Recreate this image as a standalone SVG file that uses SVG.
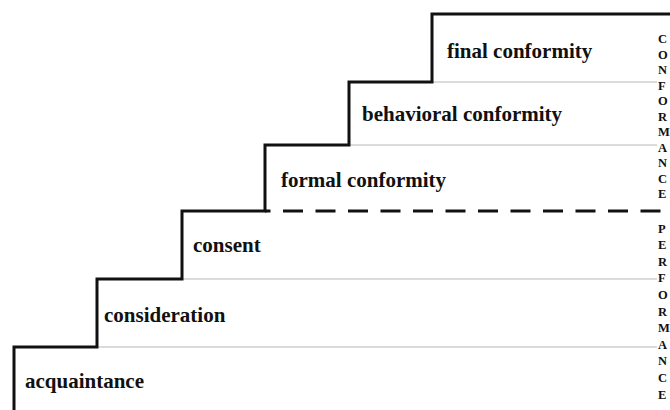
<svg xmlns="http://www.w3.org/2000/svg" width="670" height="410" viewBox="0 0 670 410">
  <style>
    .stage { font-family: "Liberation Serif", "Times New Roman", serif; font-weight: bold; font-size: 21px; fill: #111; }
    .side { font-family: "Liberation Serif", "Times New Roman", serif; font-weight: bold; font-size: 12.5px; fill: #111; }
    .stair { fill: none; stroke: #111; stroke-width: 3; stroke-linejoin: miter; }
    .tread { stroke: #cfcfcf; stroke-width: 1.5; }
    .split { stroke: #111; stroke-width: 3; stroke-dasharray: 20 12.5; stroke-dashoffset: 14.5; }
  </style>
  <rect width="670" height="410" fill="#fff"/>

  <!-- staircase outline and step dividers -->
  <g id="connectors">
    <line class="tread" x1="432" y1="82" x2="657" y2="82"/>
    <line class="tread" x1="349" y1="145" x2="657" y2="145"/>
    <line class="tread" x1="182" y1="279" x2="657" y2="279"/>
    <line class="tread" x1="97" y1="347" x2="657" y2="347"/>
    <line class="split" x1="265" y1="211" x2="670" y2="211"/>
    <path class="stair" d="M14,410 V347 H97 V279 H182 V211 H265 V145 H349 V82 H432 V14 H670"/>
  </g>

  <!-- steps -->
  <g id="final-conformity"><text class="stage" x="447" y="58">final conformity</text></g>
  <g id="behavioral-conformity"><text class="stage" x="362" y="121">behavioral conformity</text></g>
  <g id="formal-conformity"><text class="stage" x="281" y="187">formal conformity</text></g>
  <g id="consent"><text class="stage" x="193" y="252">consent</text></g>
  <g id="consideration"><text class="stage" x="104" y="322">consideration</text></g>
  <g id="acquaintance"><text class="stage" x="25" y="388">acquaintance</text></g>

  <!-- vertical side labels -->
  <g id="conformance">
    <text class="side">
      <tspan x="658" y="43">C</tspan>
      <tspan x="658" y="58.5">O</tspan>
      <tspan x="658" y="74">N</tspan>
      <tspan x="658" y="89.5">F</tspan>
      <tspan x="658" y="105">O</tspan>
      <tspan x="658" y="120.5">R</tspan>
      <tspan x="658" y="136">M</tspan>
      <tspan x="658" y="151.5">A</tspan>
      <tspan x="658" y="167">N</tspan>
      <tspan x="658" y="182.5">C</tspan>
      <tspan x="658" y="198">E</tspan>
    </text>
  </g>
  <g id="performance">
    <text class="side">
      <tspan x="658" y="232.5">P</tspan>
      <tspan x="658" y="249.1">E</tspan>
      <tspan x="658" y="265.7">R</tspan>
      <tspan x="658" y="282.3">F</tspan>
      <tspan x="658" y="298.9">O</tspan>
      <tspan x="658" y="315.5">R</tspan>
      <tspan x="658" y="332.1">M</tspan>
      <tspan x="658" y="348.7">A</tspan>
      <tspan x="658" y="365.3">N</tspan>
      <tspan x="658" y="381.9">C</tspan>
      <tspan x="658" y="398.5">E</tspan>
    </text>
  </g>
</svg>
